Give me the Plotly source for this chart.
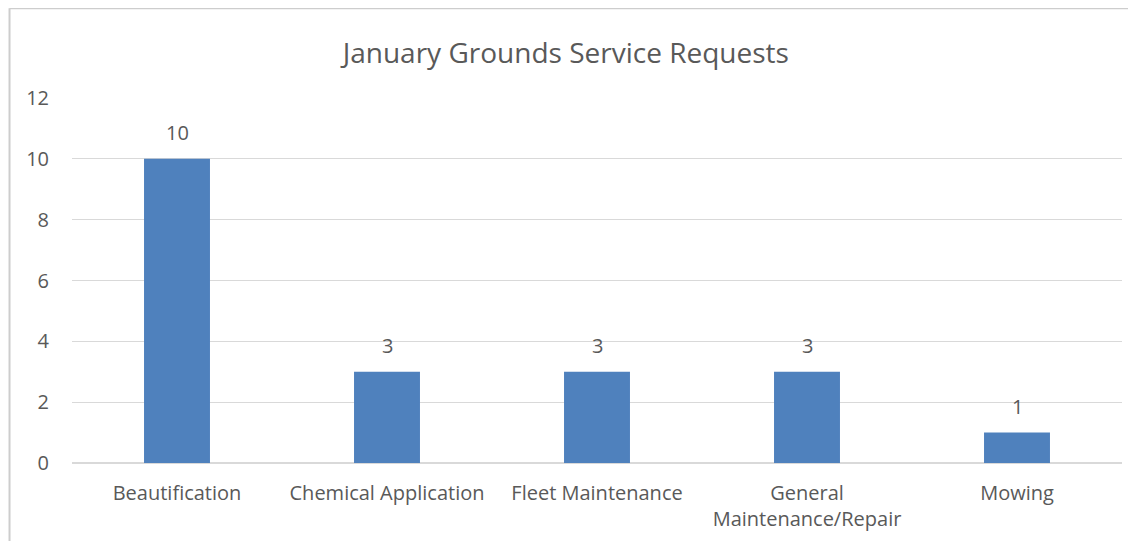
import plotly.graph_objects as go

categories = ["Beautification", "Chemical Application", "Fleet Maintenance",
              "General<br>Maintenance/Repair", "Mowing"]
requests = [10, 3, 3, 3, 1]

BAR = "#4f81bd"
TEXT = "#595959"
GRID = "#d9d9d9"
BORDER = "#cdcdcd"

fig = go.Figure()
fig.add_trace(go.Bar(
    x=categories, y=requests,
    marker=dict(color=BAR, line=dict(width=0)),
    width=0.314,
    hoverinfo="x+y",
))

# data labels sit a bit above each bar
for c, v in zip(categories, requests):
    fig.add_annotation(x=c, y=v, text=str(v), showarrow=False,
                       yshift=26, font=dict(size=20, color=TEXT))

# chart border: only left and top edges are visible in the reference crop
fig.add_shape(type="line", xref="paper", yref="paper",
              x0=-0.0595, x1=-0.0595, y0=-0.3, y1=1.246,
              line=dict(color=BORDER, width=2), layer="below")
fig.add_shape(type="line", xref="paper", yref="paper",
              x0=-0.0595, x1=1.1, y0=1.246, y1=1.246,
              line=dict(color=BORDER, width=2), layer="below")

# page body has an 8px margin all round; keep the figure inside the window
fig.update_layout(
    title=dict(text="January Grounds Service Requests", x=0.498, xanchor="center",
               yref="container", y=0.9156, yanchor="middle",
               font=dict(size=28, color=TEXT)),
    width=1120, height=533,
    plot_bgcolor="white",
    paper_bgcolor="white",
    font=dict(family="Open Sans, sans-serif", size=20, color=TEXT),
    margin=dict(l=64, r=6, t=90, b=78),
    showlegend=False,
    bargap=0.686,
)
fig.update_xaxes(showgrid=False, showline=False, ticks="", ticklabelstandoff=16,
                 tickfont=dict(size=20, color=TEXT))
fig.update_yaxes(range=[0, 12], dtick=2, showgrid=True, gridcolor=GRID, gridwidth=1,
                 zeroline=True, zerolinecolor=GRID, zerolinewidth=1.5,
                 showline=False, ticks="", ticklabelstandoff=22,
                 tickfont=dict(size=20, color=TEXT))

fig.write_html("out.html")
